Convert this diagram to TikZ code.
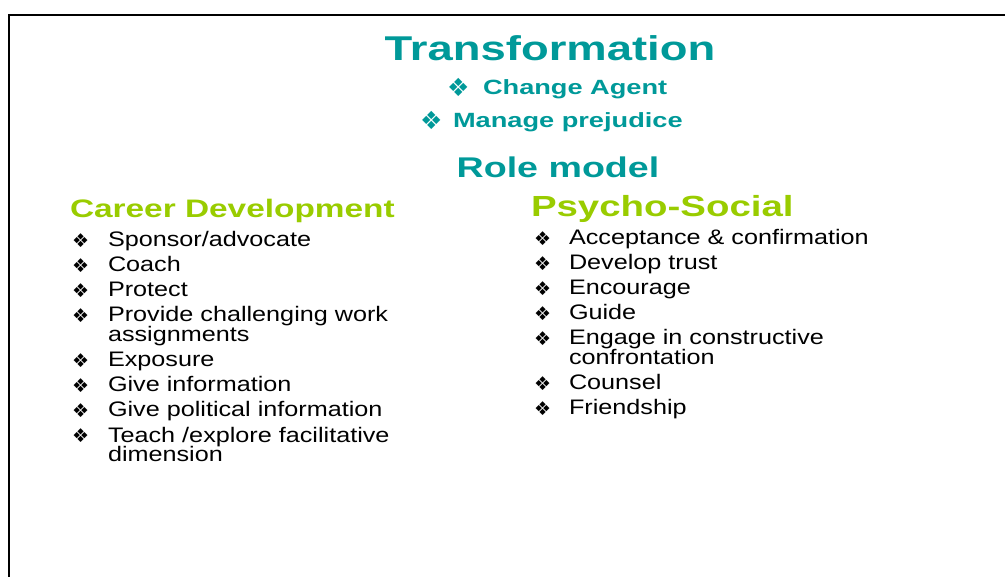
\documentclass[tikz,border=0pt]{standalone}
\usepackage{fontspec}
\setmainfont{Liberation Sans}
\newfontfamily\bodyf{Liberation Sans}[FakeStretch=1.2]
\newfontfamily\headf{Liberation Sans}[FakeStretch=1.32]
\newfontfamily\symf{DejaVu Sans}
\definecolor{teal1}{HTML}{009999}
\definecolor{green1}{HTML}{99CC00}
\tikzset{
  every node/.style={inner sep=0pt, outer sep=0pt},
  head/.style={anchor=base, font=\headf\bfseries, text=teal1},
  sub/.style={anchor=base west, font=\headf\bfseries\fontsize{20.6}{24}\selectfont, text=teal1},
  cat/.style={anchor=base west, font=\headf\bfseries\fontsize{25.3}{30}\selectfont, text=green1},
  item/.style={anchor=base west, font=\bodyf\fontsize{21}{20}\selectfont, align=left, text=black},
  bul/.style={anchor=base west, font=\symf\fontsize{19}{20}\selectfont, text=black},
  hbul/.style={anchor=base west, font=\symf\fontsize{25}{26}\selectfont, text=teal1},
}
\begin{document}
\begin{tikzpicture}[x=1pt,y=-1pt]
\useasboundingbox (0,0) rectangle (1005,577);
\draw[line width=2pt] (9,578) -- (9,15) -- (1006,15);

\node[head, font=\headf\bfseries\fontsize{34.4}{40}\selectfont] (t) at (550,61) {Transformation};
\node[hbul] (b1) at (447,97) {❖};
\node[sub] (ca) at (483,95) {Change Agent};
\node[hbul] (b2) at (420,130) {❖};
\node[sub] (mp) at (453,128) {Manage prejudice};
\node[head, font=\headf\bfseries\fontsize{28.5}{34}\selectfont] (rm) at (558,178) {Role model};

\node[cat] (cd) at (70,218) {Career Development};
\node[cat, font=\headf\bfseries\fontsize{29.1}{34}\selectfont] (ps) at (531,217) {Psycho-Social};

% left list
\node[bul] (lb1) at (72,248) {❖}; \node[item] (li1) at (108,247) {Sponsor/advocate};
\node[bul] (lb2) at (72,273) {❖}; \node[item] (li2) at (108,272) {Coach};
\node[bul] (lb3) at (72,298) {❖}; \node[item] (li3) at (108,297) {Protect};
\node[bul] (lb4) at (72,323) {❖}; \node[item] (li4) at (108,342) {Provide challenging work\\assignments};
\node[bul] (lb5) at (72,368) {❖}; \node[item] (li5) at (108,367) {Exposure};
\node[bul] (lb6) at (72,393) {❖}; \node[item] (li6) at (108,392) {Give information};
\node[bul] (lb7) at (72,418) {❖}; \node[item] (li7) at (108,417) {Give political information};
\node[bul] (lb8) at (72,443) {❖}; \node[item] (li8) at (108,462) {Teach /explore facilitative\\dimension};

% right list
\node[bul] (rb1) at (534,246) {❖}; \node[item] (ri1) at (569,245) {Acceptance \& confirmation};
\node[bul] (rb2) at (534,271) {❖}; \node[item] (ri2) at (569,270) {Develop trust};
\node[bul] (rb3) at (534,296) {❖}; \node[item] (ri3) at (569,295) {Encourage};
\node[bul] (rb4) at (534,321) {❖}; \node[item] (ri4) at (569,320) {Guide};
\node[bul] (rb5) at (534,346) {❖}; \node[item] (ri5) at (569,365) {Engage in constructive\\confrontation};
\node[bul] (rb6) at (534,391) {❖}; \node[item] (ri6) at (569,390) {Counsel};
\node[bul] (rb7) at (534,416) {❖}; \node[item] (ri7) at (569,415) {Friendship};
\end{tikzpicture}
\end{document}
